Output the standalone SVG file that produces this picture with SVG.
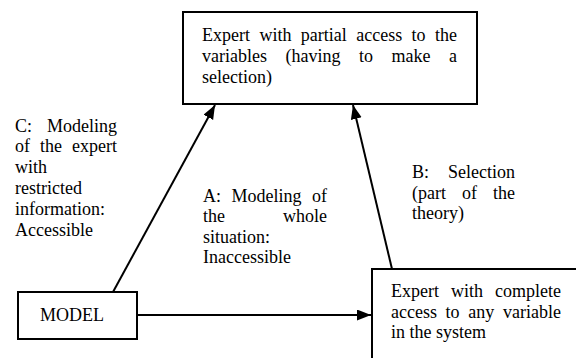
<svg xmlns="http://www.w3.org/2000/svg" width="576" height="358" viewBox="0 0 576 358">
<style>
.box{fill:#fff;stroke:#000;stroke-width:2}
.t{font-family:"Liberation Serif","Times New Roman",serif;font-size:18px;fill:#000}
.e{text-anchor:end}
.c{stroke:#000;stroke-width:2;fill:none}
</style>
<defs>
<marker id="ah" markerUnits="userSpaceOnUse" markerWidth="15" markerHeight="12" refX="14" refY="5.5" orient="auto">
<path d="M0,0 L14,5.5 L0,11 z" fill="#000"/>
</marker>
</defs>
<rect width="576" height="358" fill="#fff"/>
<g id="connectors">
<line class="c" x1="137" y1="315" x2="371" y2="315" marker-end="url(#ah)"/>
<line class="c" x1="113" y1="292" x2="215" y2="105" marker-end="url(#ah)"/>
<line class="c" x1="392" y1="269" x2="353" y2="105" marker-end="url(#ah)"/>
</g>
<g id="partial">
<rect class="box" x="183" y="12" width="294" height="92"/>
<text class="t" y="41"><tspan x="202">Expert</tspan><tspan x="259.4">with</tspan><tspan x="300.8">partial</tspan><tspan x="356.2">access</tspan><tspan x="411.6">to</tspan><tspan x="457" class="e">the</tspan></text>
<text class="t" y="62"><tspan x="202">variables</tspan><tspan x="285.5">(having</tspan><tspan x="359">to</tspan><tspan x="391.5">make</tspan><tspan x="457" class="e">a</tspan></text>
<text class="t" x="202" y="83">selection)</text>
</g>
<g id="complete">
<rect class="box" x="372" y="269" width="230" height="110"/>
<text class="t" y="297"><tspan x="391">Expert</tspan><tspan x="451">with</tspan><tspan x="561" class="e">complete</tspan></text>
<text class="t" y="317.5"><tspan x="391">access</tspan><tspan x="445.6">to</tspan><tspan x="468.3">any</tspan><tspan x="561" class="e">variable</tspan></text>
<text class="t" x="391" y="338">in the system</text>
</g>
<g id="model">
<rect class="box" x="18" y="292" width="119" height="47"/>
<text class="t" x="40" y="321">MODEL</text>
</g>
<g id="labelC">
<text class="t" y="131.5"><tspan x="15">C:</tspan><tspan x="117" class="e">Modeling</tspan></text>
<text class="t" y="152.3"><tspan x="15">of</tspan><tspan x="40">the</tspan><tspan x="117" class="e">expert</tspan></text>
<text class="t" x="15" y="173.1">with</text>
<text class="t" x="15" y="193.9">restricted</text>
<text class="t" x="15" y="214.7">information:</text>
<text class="t" x="15" y="235.5">Accessible</text>
</g>
<g id="labelA">
<text class="t" y="201.5"><tspan x="203">A:</tspan><tspan x="231.5">Modeling</tspan><tspan x="327" class="e">of</tspan></text>
<text class="t" y="222.3"><tspan x="203">the</tspan><tspan x="327" class="e">whole</tspan></text>
<text class="t" x="203" y="243">situation:</text>
<text class="t" x="203" y="263">Inaccessible</text>
</g>
<g id="labelB">
<text class="t" y="178"><tspan x="412">B:</tspan><tspan x="515" class="e">Selection</tspan></text>
<text class="t" y="198.5"><tspan x="412">(part</tspan><tspan x="462">of</tspan><tspan x="515" class="e">the</tspan></text>
<text class="t" x="412" y="219">theory)</text>
</g>
</svg>
